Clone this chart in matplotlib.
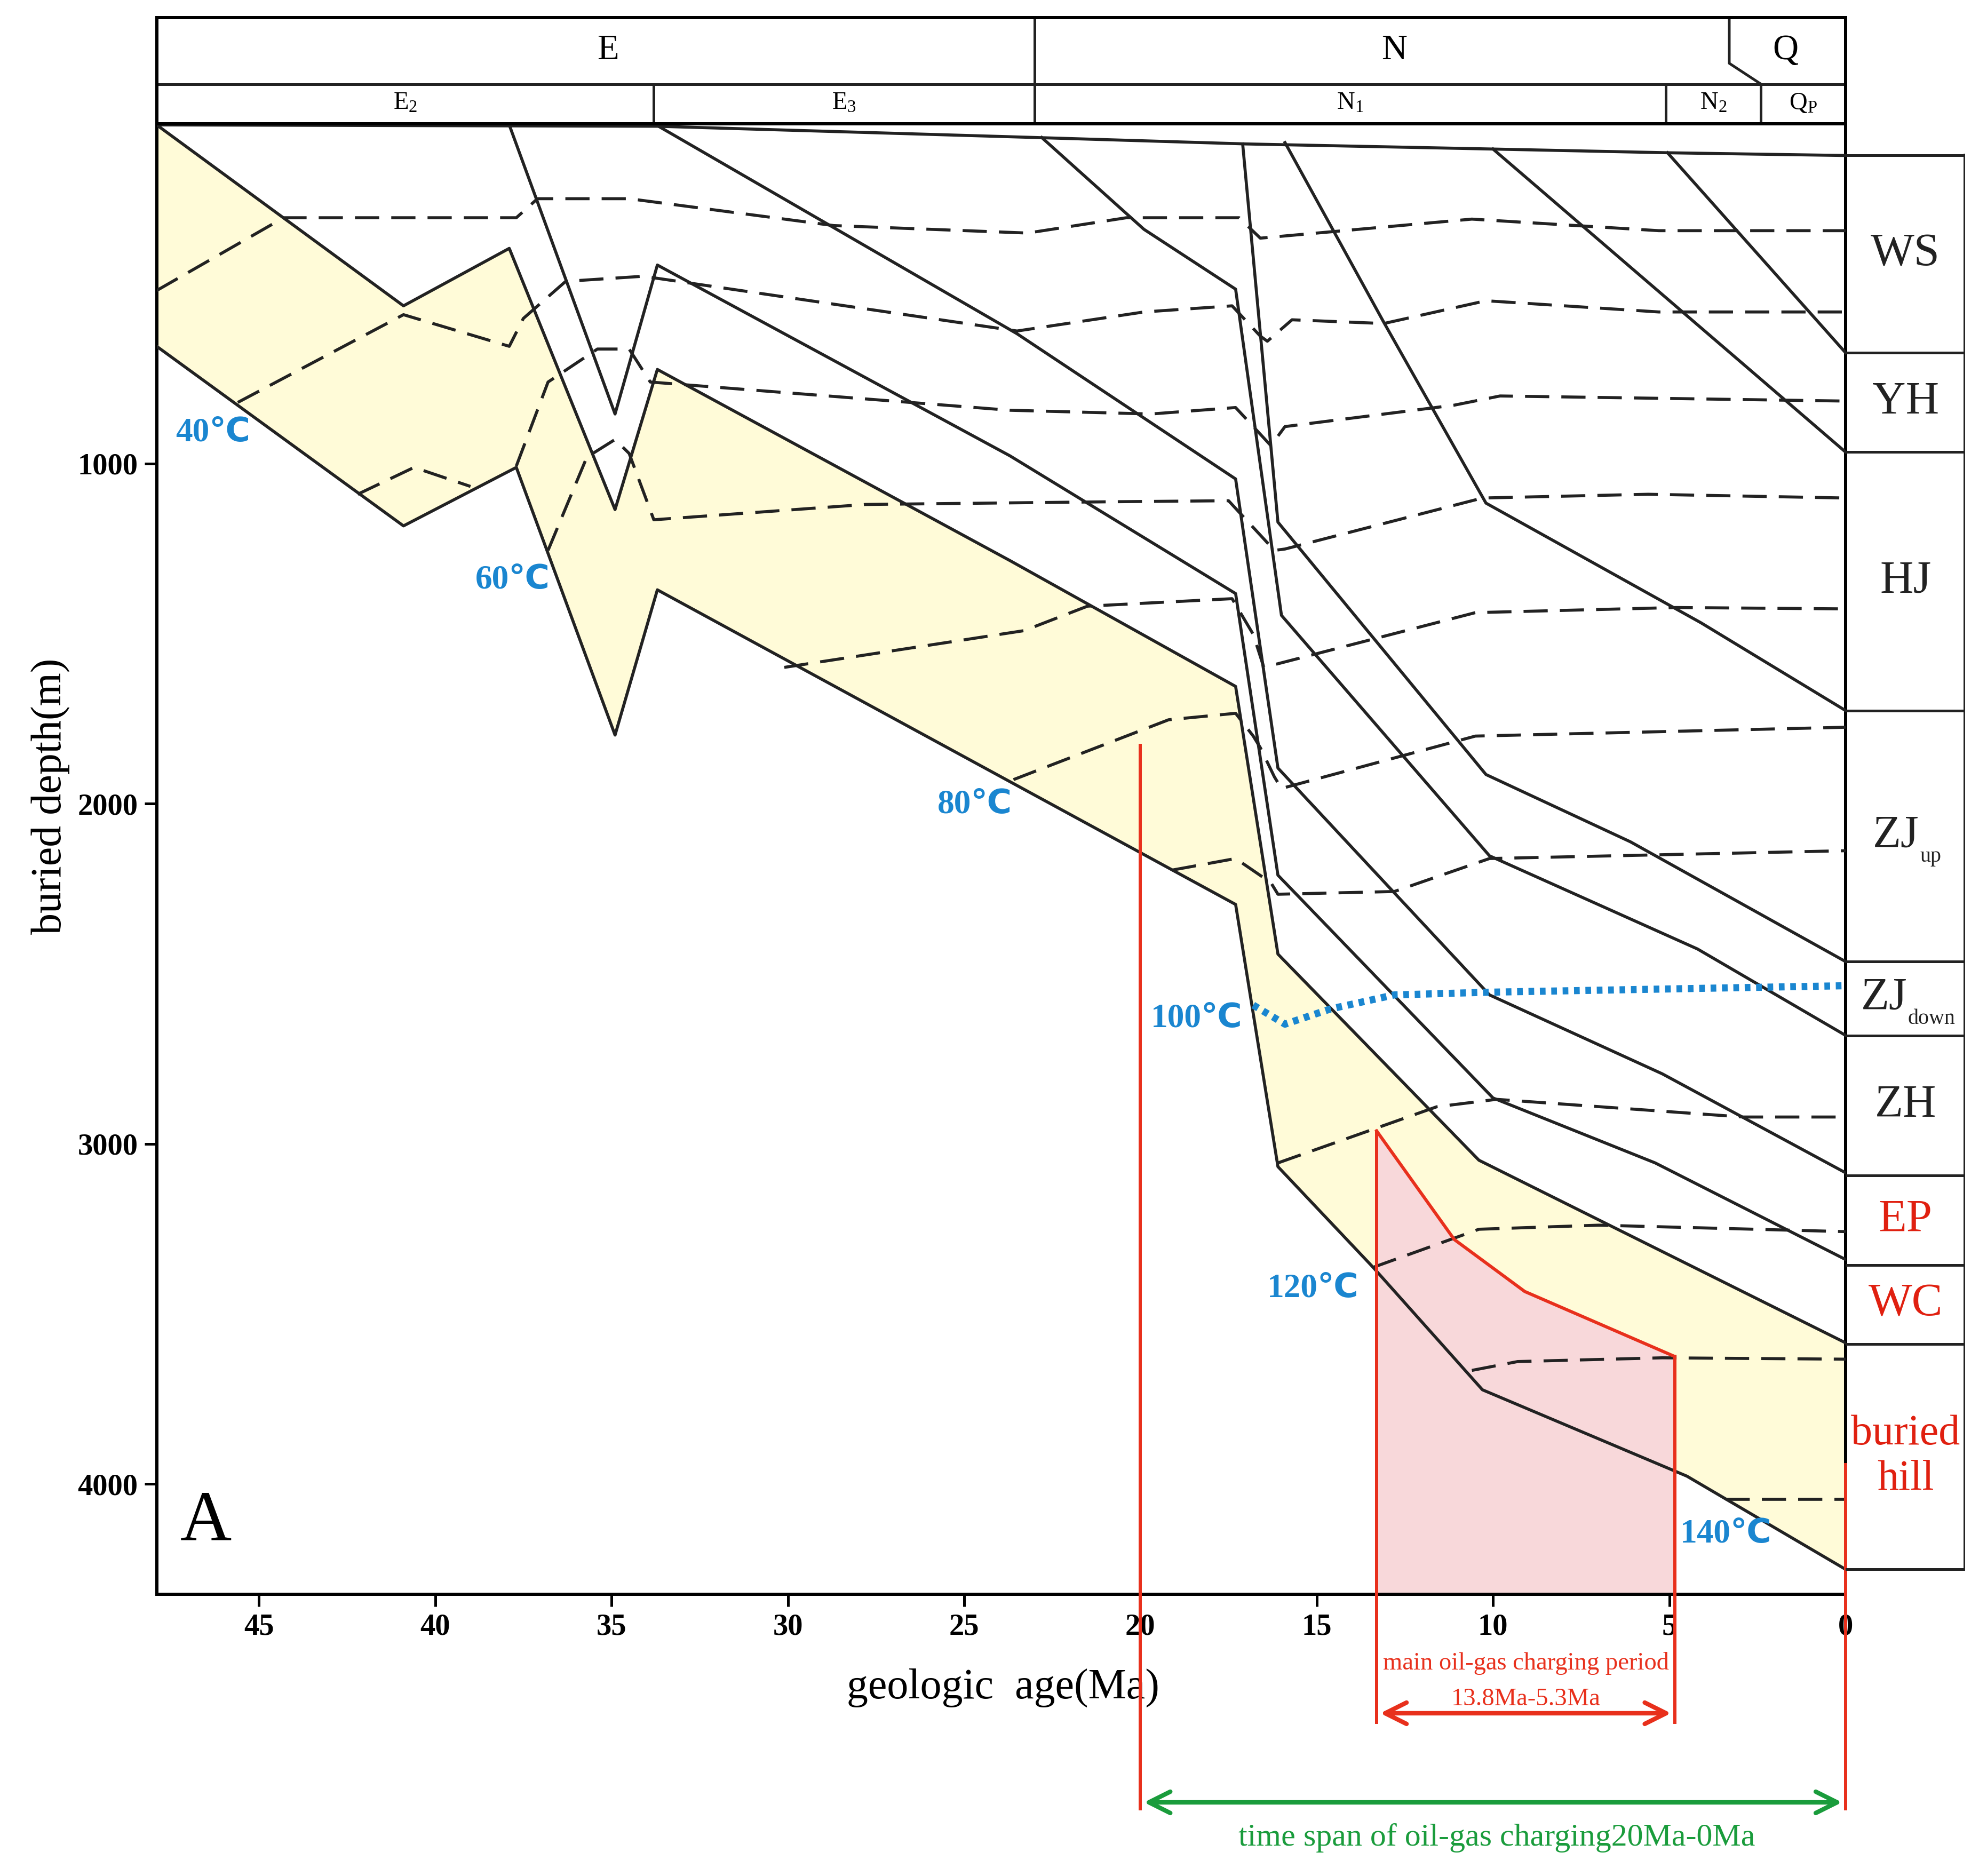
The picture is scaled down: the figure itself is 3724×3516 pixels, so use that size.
import matplotlib
matplotlib.use("Agg")
import matplotlib.pyplot as plt

plt.rcParams['font.family'] = ['Liberation Serif', 'DejaVu Sans']
plt.rcParams['mathtext.fontset'] = 'custom'
plt.rcParams['mathtext.rm'] = 'Liberation Serif'
plt.rcParams['mathtext.it'] = 'Liberation Serif'

# ---- burial curves (age Ma, depth m) ----
surface_age = [47.9, 33.7, 23.0, 17.0, 10.0, 5.0, 0]
surface_dep = [4, 8, 41, 60, 75, 86, 94]

horizons = {
    'h0': ([47.9, 40.9, 37.7, 34.9, 33.7, 17.3, 16.1, 13.4, 10.3, 4.5, 0],
           [655, 1183, 1011, 1798, 1371, 2296, 3067, 3363, 3723, 3977, 4251]),
    'h1': ([47.9, 40.9, 37.9, 34.9, 33.7, 23.7, 17.3, 16.1, 10.4, 0],
           [4, 536, 367, 1135, 723, 1285, 1655, 2442, 3048, 3585]),
    'h2': ([37.9, 34.9, 33.7, 23.7, 17.3, 16.1, 10.0, 5.4, 0],
           [4, 854, 416, 977, 1382, 2210, 2865, 3056, 3340]),
    'h3': ([33.7, 23.5, 17.3, 16.1, 10.1, 5.2, 0],
           [6, 618, 1045, 1895, 2562, 2794, 3085]),
    'h4': ([22.8, 19.9, 17.3, 16.0, 10.1, 4.2, 0],
           [41, 311, 487, 1446, 2153, 2427, 2681]),
    'h5': ([17.1, 16.1, 10.2, 6.1, 0],
           [60, 1172, 1914, 2112, 2464]),
    'h6': ([15.9, 13.1, 10.2, 4.1, 0],
           [56, 584, 1116, 1468, 1726]),
    'h7': ([10.0, 0], [75, 966]),
    'h8': ([5.05, 0], [86, 674]),
}

dashed = [
    ([47.9, 44.3, 37.7, 37.1, 34.5, 28.7, 23.2, 20.4, 17.2, 16.6, 10.6, 5.3, 0],
     [491, 277, 277, 221, 221, 300, 322, 277, 277, 337, 281, 315, 315]),
    ([45.6, 40.9, 37.9, 37.5, 36.3, 34.1, 23.5, 19.9, 17.4, 16.6, 16.4, 15.7, 13.1, 10.2, 5.3, 0],
     [820, 562, 655, 573, 464, 449, 610, 554, 536, 625, 640, 577, 588, 521, 554, 554]),
    ([42.2, 40.6, 39.0], [1090, 1011, 1067]),
    ([37.7, 36.8, 35.4, 34.5, 33.9, 23.7, 19.7, 17.3, 16.3, 15.9, 11.1, 9.8, 0],
     [1007, 760, 663, 663, 760, 843, 854, 835, 947, 891, 828, 801, 816]),
    ([36.8, 35.7, 34.9, 34.5, 33.8, 27.8, 20.8, 17.5, 16.2, 15.9, 10.3, 5.6, 0],
     [1255, 981, 929, 970, 1165, 1120, 1112, 1109, 1255, 1251, 1101, 1090, 1101]),
    ([30.1, 23.3, 21.5, 17.4, 16.8, 16.5, 10.5, 4.8, 0],
     [1599, 1491, 1419, 1397, 1502, 1599, 1438, 1423, 1427]),
    ([23.6, 19.2, 17.3, 16.8, 16.6, 16.2, 16.0, 10.5, 0],
     [1929, 1753, 1734, 1801, 1835, 1921, 1955, 1801, 1775]),
    ([19.1, 17.3, 16.3, 16.1, 12.8, 10.1, 0],
     [2195, 2161, 2232, 2266, 2258, 2161, 2138]),
    ([16.1, 11.6, 9.9, 2.9, 0], [3056, 2891, 2869, 2921, 2921]),
    ([13.4, 10.4, 7.0, 0], [3363, 3251, 3239, 3258]),
    ([10.6, 9.3, 5.2, 0], [3666, 3640, 3629, 3633]),
    ([3.4, 0], [4045, 4045]),
]

iso100_age = [16.8, 15.9, 14.6, 12.8, 10.1, 0]
iso100_dep = [2592, 2648, 2603, 2562, 2554, 2535]

pink_age = [13.3, 13.3, 11.1, 9.1, 4.85, 4.85]
pink_dep = [4325, 2962, 3281, 3434, 3625, 4325]

iso_labels = ['40℃', '60℃', '80℃', '100℃', '120℃', '140℃']
iso_age = [46.3, 37.8, 24.7, 18.4, 15.1, 3.4]
iso_dep = [910, 1344, 2004, 2633, 3427, 4149]

layers = ['WS', 'YH', 'HJ', 'ZJ', 'ZJ', 'ZH', 'EP', 'WC', 'buried\nhill']
layer_subs = ['', '', '', 'up', 'down', '', '', '', '']
layer_bounds = [94, 674, 966, 1726, 2464, 2681, 3093, 3356, 3588, 4251]
layer_colors = ['#222222'] * 6 + ['#e02010'] * 3

period_names = ['E', 'N', 'Q']
period_bounds = [47.9, 23.0, 3.3, 0]
epoch_names = [r'E$_2$', r'E$_3$', r'N$_1$', r'N$_2$', r'Q$_{\rm P}$']
epoch_bounds = [47.9, 33.8, 23.0, 5.1, 2.4, 0]

W, H = 1560, 1473
AW = 1326
fig = plt.figure(figsize=(3724 / 240, 3516 / 240), dpi=240)
ax = fig.add_axes([123 / W, 1 - 1252 / H, AW / W, 1155 / H])
ax.set_xlim(47.9, 0)
ax.set_ylim(4325, 0)

lw = 1.7
h0a, h0d = horizons['h0']
h1a, h1d = horizons['h1']
ax.fill(h1a + h0a[::-1], h1d + h0d[::-1], color='#fffbd8', zorder=0, lw=0)
ax.fill(pink_age, pink_dep, color='#f8d8da', zorder=1, lw=0)
ax.plot(pink_age[1:5], pink_dep[1:5], color='#e8301c', lw=1.8, zorder=4)
for a in (13.3, 4.85):
    ax.plot([a, a], [2962 if a == 13.3 else 3625, 4700], color='#e8301c', lw=1.8, clip_on=False, zorder=4)

ax.plot(surface_age, surface_dep, color='#222222', lw=lw, zorder=3)
for k, (a, d) in horizons.items():
    ax.plot(a, d, color='#222222', lw=lw, zorder=3)
for a, d in dashed:
    ax.plot(a, d, color='#222222', lw=lw, dashes=(8, 4), zorder=3)
ax.plot(iso100_age, iso100_dep, color='#1a86d0', lw=4, ls=(0, (0.8, 0.8)), zorder=5)

for t, a, d in zip(iso_labels, iso_age, iso_dep):
    ax.text(a, d, t, color='#1a86d0', fontsize=19, fontweight='bold', ha='center', va='center',
            family=['Liberation Serif', 'DejaVu Sans'])
ax.text(46.5, 4112, 'A', fontsize=40, ha='center', va='center')

# charging period annotations
ax.plot([20, 20], [1828, 4955], color='#e8301c', lw=1.8, clip_on=False, zorder=4)
ax.plot([0, 0], [3943, 4955], color='#e8301c', lw=1.8, clip_on=False, zorder=6)
ax.annotate('', xy=(13.3, 4674), xytext=(4.85, 4674), annotation_clip=False,
            arrowprops=dict(arrowstyle='<->', color='#e8301c', lw=2.5, mutation_scale=30))
ax.annotate('', xy=(20, 4936), xytext=(0, 4936), annotation_clip=False,
            arrowprops=dict(arrowstyle='<->', color='#1a9c3c', lw=2.5, mutation_scale=30))
ax.text(9.07, 4528, 'main oil-gas charging period', color='#e8301c', fontsize=14, ha='center', va='center')
ax.text(9.07, 4633, '13.8Ma-5.3Ma', color='#e8301c', fontsize=14, ha='center', va='center')
ax.text(9.9, 5041, 'time span of oil-gas charging20Ma-0Ma', color='#1a9c3c', fontsize=18,
        ha='center', va='center', clip_on=False)
ax.text(23.9, 4599, 'geologic  age(Ma)', fontsize=24, ha='center', va='center')

ax.set_xticks([45, 40, 35, 30, 25, 20, 15, 10, 5, 0])
ax.set_yticks([1000, 2000, 3000, 4000])
ax.tick_params(direction='out', length=7, width=1.5, labelsize=17, top=False, right=False)
for lab in ax.get_xticklabels() + ax.get_yticklabels():
    lab.set_fontweight('bold')
for s in ax.spines.values():
    s.set_linewidth(1.8)
fig.text(40 / W, 1 - 625 / H, 'buried depth(m)', rotation=90, fontsize=24, ha='center', va='center')

# header
hx = fig.add_axes([123 / W, 1 - 97 / H, AW / W, 83 / H])
hx.set_xlim(47.9, 0)
hx.set_ylim(0, 1)
hx.set_xticks([])
hx.set_yticks([])
for s in hx.spines.values():
    s.set_linewidth(1.8)
hx.axhline(0.373, color='#222222', lw=1.5)
hx.plot([23.0, 23.0], [0, 1], color='#222222', lw=1.5)
hx.plot([3.3, 3.3, 2.4], [1, 0.57, 0.373], color='#222222', lw=1.5)
for b in epoch_bounds[1:-1]:
    hx.plot([b, b], [0, 0.373], color='#222222', lw=1.5)
for nm, x in zip(period_names, [35.1, 12.8, 1.7]):
    hx.text(x, 0.69, nm, fontsize=20, ha='center', va='center')
for i, nm in enumerate(epoch_names):
    hx.text((epoch_bounds[i] + epoch_bounds[i + 1]) / 2, 0.19, nm, fontsize=14, ha='center', va='center')

# layer column
lx = fig.add_axes([(123 + AW) / W, 1 - 1252 / H, 94 / W, 1155 / H])
lx.set_xlim(0, 1)
lx.set_ylim(4325, 0)
lx.axis('off')
lx.plot([1, 1], [layer_bounds[0], layer_bounds[-1]], color='#222222', lw=1.8)
for b in layer_bounds:
    lx.plot([0, 1], [b, b], color='#222222', lw=1.5)
for i, nm in enumerate(layers):
    yc = (layer_bounds[i] + layer_bounds[i + 1]) / 2
    if layer_subs[i]:
        xc = 0.42 if layer_subs[i] == 'up' else 0.32
        lx.text(xc, yc, nm, fontsize=26, color=layer_colors[i], ha='center', va='center')
        lx.text(xc + 0.2, yc + 60, layer_subs[i], fontsize=12, color=layer_colors[i],
                ha='left', va='center')
    else:
        lx.text(0.5, yc, nm, fontsize=26 if i < 8 else 24,
                color=layer_colors[i], ha='center', va='center', linespacing=1.2)

fig.savefig('out.png', dpi=240)
